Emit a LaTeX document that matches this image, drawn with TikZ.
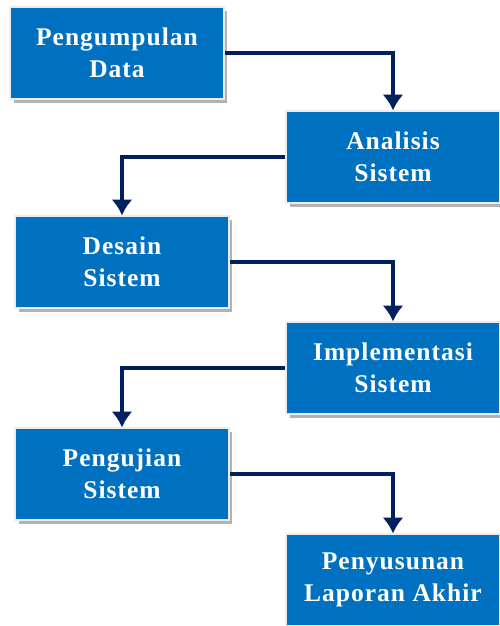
\documentclass[tikz,border=0pt]{standalone}
\usepackage{fontspec}
\setmainfont{Liberation Serif}
\usetikzlibrary{arrows.meta,shadows}
\definecolor{boxblue}{HTML}{0070C0}
\definecolor{navy}{HTML}{002060}
\tikzset{
  stepbox/.style={rectangle,fill=boxblue,draw=white!85!gray,line width=0.6pt,
    minimum width=4.28cm,minimum height=1.84cm,align=center,text=white,
    font=\fontsize{14.5}{18}\selectfont\bfseries\addfontfeature{LetterSpace=4},
    drop shadow={shadow xshift=2pt,shadow yshift=-2.5pt,fill=black,opacity=0.3}},
  flow/.style={navy,line width=1.8pt,-{Latex[length=9pt,width=12pt]}}
}
\begin{document}
\begin{tikzpicture}[x=0.02cm,y=-0.02cm]
\useasboundingbox (0,0) rectangle (500,626);
\node[stepbox] (kumpul) at (117,53) {Pengumpulan\\Data};
\node[stepbox] (analisis) at (393,157) {Analisis\\Sistem};
\node[stepbox] (desain) at (122,262) {Desain\\Sistem};
\node[stepbox] (implementasi) at (393,368) {Implementasi\\Sistem};
\node[stepbox] (uji) at (122,474) {Pengujian\\Sistem};
\node[stepbox] (laporan) at (393,580) {Penyusunan\\Laporan Akhir};
\draw[flow] (kumpul.east) -| (analisis.north);
\draw[flow] (analisis.west) -| (desain.north);
\draw[flow] (desain.east) -| (implementasi.north);
\draw[flow] (implementasi.west) -| (uji.north);
\draw[flow] (uji.east) -| (laporan.north);
\end{tikzpicture}
\end{document}
